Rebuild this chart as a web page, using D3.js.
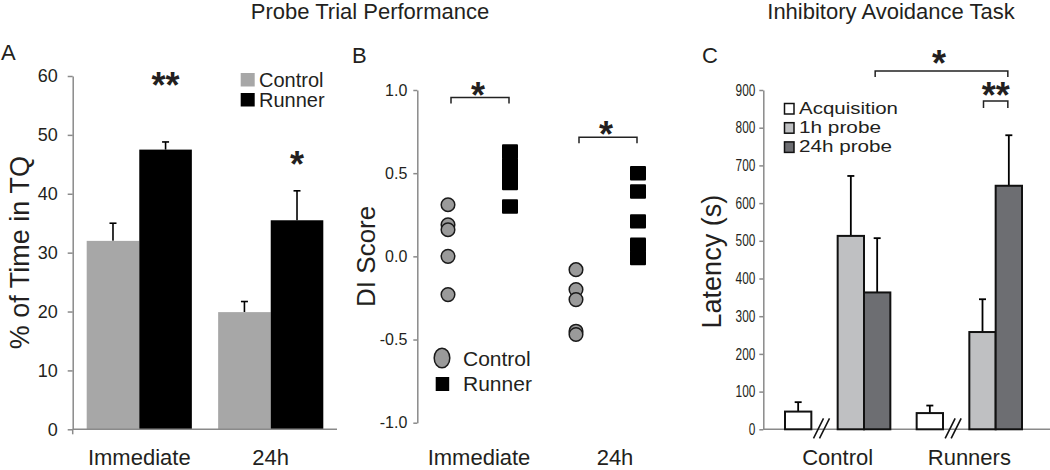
<!DOCTYPE html>
<html>
<head>
<meta charset="utf-8">
<script src="https://cdn.jsdelivr.net/npm/d3@7"></script>
<style>
  body { margin: 0; background: #fff; }
  svg { display: block; font-family: "Liberation Sans", Arial, Helvetica, sans-serif; }
  text { fill: #231f20; }
</style>
</head>
<body>
<svg id="chart" width="1050" height="470"></svg>
<script>
// ---------- Panel A data ----------
const aGroups = ["Immediate", "24h"];
const aSeries = ["Control", "Runner"];
const aControlMean = [32.0, 19.9];
const aRunnerMean = [47.5, 35.5];
const aControlSem = [3.0, 1.8];
const aRunnerSem = [1.3, 5.0];
const aTicks = [0, 10, 20, 30, 40, 50, 60];
const aStars = ["**", "*"];

// ---------- Panel B data ----------
const bGroups = ["Immediate", "24h"];
const bControlImmediate = [0.31, 0.19, 0.16, 0.0, -0.23];
const bRunnerImmediate = [0.63, 0.55, 0.49, 0.44, 0.30];
const bControl24h = [-0.08, -0.20, -0.26, -0.45, -0.47];
const bRunner24h = [0.50, 0.39, 0.21, 0.07, -0.01];
const bTicks = [-1.0, -0.5, 0.0, 0.5, 1.0];

// ---------- Panel C data ----------
const cGroups = ["Control", "Runners"];
const cSeries = ["Acquisition", "1h probe", "24h probe"];
const cControlMean = [47, 513, 363];
const cRunnersMean = [43, 258, 646];
const cControlSem = [25, 159, 144];
const cRunnersSem = [20, 87, 134];
const cTicks = [0, 100, 200, 300, 400, 500, 600, 700, 800, 900];

const svg = d3.select("#chart");
const ink = "#231f20";
const axisGray = "#8a8a8a";
const labelBaseline = 465;

// Titles and panel letters
svg.append("text").attr("x", 370).attr("y", 19).attr("text-anchor", "middle")
  .attr("font-size", 22).text("Probe Trial Performance");
svg.append("text").attr("x", 891).attr("y", 19).attr("text-anchor", "middle")
  .attr("font-size", 22).text("Inhibitory Avoidance Task");
svg.append("text").attr("x", 1).attr("y", 60).attr("font-size", 22).text("A");
svg.append("text").attr("x", 352).attr("y", 63).attr("font-size", 22).text("B");
svg.append("text").attr("x", 702).attr("y", 63).attr("font-size", 22).text("C");

function styleAxis(g, fs) {
  g.select(".domain").attr("stroke", axisGray).attr("stroke-width", 1.5);
  g.selectAll(".tick line").attr("stroke", axisGray).attr("stroke-width", 1.5);
  g.selectAll(".tick text").attr("fill", ink).attr("font-size", fs)
    .attr("font-family", '"Liberation Sans", Arial, sans-serif');
}

// ================= Panel A =================
(function () {
  const y = d3.scaleLinear().domain([0, 60]).range([429.3, 76]);
  const x = d3.scaleBand().domain(aGroups).range([86.7, 323.3]).paddingInner(0.2).paddingOuter(0);
  const xs = d3.scaleBand().domain(aSeries).range([0, x.bandwidth()]);
  const colors = { Control: "#a7a7a7", Runner: "#000000" };
  const g = svg.append("g");

  const rows = [];
  aGroups.forEach((grp, i) => {
    rows.push({ grp, s: "Control", v: aControlMean[i], e: aControlSem[i] });
    rows.push({ grp, s: "Runner", v: aRunnerMean[i], e: aRunnerSem[i] });
  });

  rows.forEach(d => {
    const cx = x(d.grp) + xs(d.s) + xs.bandwidth() / 2;
    g.append("line").attr("x1", cx).attr("x2", cx).attr("y1", y(d.v)).attr("y2", y(d.v + d.e))
      .attr("stroke", "#000").attr("stroke-width", 1.6);
    g.append("line").attr("x1", cx - 3.5).attr("x2", cx + 3.5).attr("y1", y(d.v + d.e)).attr("y2", y(d.v + d.e))
      .attr("stroke", "#000").attr("stroke-width", 1.6);
  });
  g.selectAll("rect.bar").data(rows).enter().append("rect")
    .attr("x", d => x(d.grp) + xs(d.s))
    .attr("width", xs.bandwidth())
    .attr("y", d => y(d.v))
    .attr("height", d => y(0) - y(d.v))
    .attr("fill", d => colors[d.s]);

  const ya = g.append("g").attr("transform", "translate(72.7,0)")
    .call(d3.axisLeft(y).tickValues(aTicks).tickSize(5).tickSizeOuter(0).tickPadding(10));
  styleAxis(ya, 18);
  g.append("line").attr("x1", 72.7).attr("x2", 337).attr("y1", y(0)).attr("y2", y(0))
    .attr("stroke", axisGray).attr("stroke-width", 1.5);
  g.append("line").attr("x1", 72.7).attr("x2", 72.7).attr("y1", y(0)).attr("y2", y(0) + 5)
    .attr("stroke", axisGray).attr("stroke-width", 1.5);
  const xa = g.append("g").attr("transform", `translate(0,${y(0)})`)
    .call(d3.axisBottom(x).tickSize(0).tickPadding(0));
  xa.select(".domain").remove();
  xa.selectAll(".tick text").attr("fill", ink).attr("font-size", 22)
    .attr("y", labelBaseline - y(0)).attr("dy", 0)
    .attr("font-family", '"Liberation Sans", Arial, sans-serif');

  g.append("text").attr("transform", `translate(29,${(y(0) + y(60)) / 2}) rotate(-90)`)
    .attr("text-anchor", "middle").attr("font-size", 27).text("% of Time in TQ");

  aGroups.forEach((grp, i) => {
    const top = Math.max(aControlMean[i] + aControlSem[i], aRunnerMean[i] + aRunnerSem[i]);
    const cx = x(grp) + xs("Runner") + xs.bandwidth() / 2;
    const yy = i === 0 ? 98 : y(top) - 14;
    g.append("text").attr("x", cx).attr("y", yy).attr("text-anchor", "middle")
      .attr("font-size", 36).attr("font-weight", "bold").text(aStars[i]);
  });

  const leg = g.append("g");
  aSeries.forEach((s, i) => {
    leg.append("rect").attr("x", 240.7).attr("y", 73 + i * 20).attr("width", 14).attr("height", 13.5)
      .attr("fill", colors[s]);
    leg.append("text").attr("x", 259).attr("y", 87 + i * 20).attr("font-size", 20).text(s);
  });
})();

// ================= Panel B =================
(function () {
  const y = d3.scaleLinear().domain([-1, 1]).range([422.7, 90]);
  const x = d3.scalePoint().domain(bGroups).range([415, 671]).padding(0.5);
  const off = 31;
  const g = svg.append("g");

  const ya = g.append("g").attr("transform", "translate(417.3,0)")
    .call(d3.axisLeft(y).tickValues(bTicks).tickSize(4).tickSizeOuter(0).tickPadding(6)
      .tickFormat(d => d.toFixed(1)));
  styleAxis(ya, 16);

  const ctrl = [bControlImmediate, bControl24h];
  const run = [bRunnerImmediate, bRunner24h];
  bGroups.forEach((grp, i) => {
    g.selectAll(null).data(run[i]).enter().append("rect")
      .attr("x", x(grp) + off - 8).attr("width", 16)
      .attr("y", d => y(d) - 7.2).attr("height", 14.4)
      .attr("rx", 1).attr("fill", "#000");
    g.selectAll(null).data(ctrl[i]).enter().append("circle")
      .attr("cx", x(grp) - off).attr("cy", d => y(d)).attr("r", 6.8)
      .attr("fill", "#9a9a9a").attr("stroke", "#1a1a1a").attr("stroke-width", 1.5);
    const top = Math.max(d3.max(ctrl[i]), d3.max(run[i]));
    const by = y(top) - (i === 0 ? 54 : 36);
    g.append("path")
      .attr("d", `M${x(grp) - off + 3},${by + 6}V${by}H${x(grp) + off - 1}V${by + 6}`)
      .attr("fill", "none").attr("stroke", "#222").attr("stroke-width", 1.5);
    g.append("text").attr("x", x(grp) - 1).attr("y", by + 10).attr("text-anchor", "middle")
      .attr("font-size", 36).attr("font-weight", "bold").text("*");
    g.append("text").attr("x", x(grp) + (i === 0 ? 0 : 8)).attr("y", labelBaseline).attr("text-anchor", "middle")
      .attr("font-size", 22).text(grp);
  });

  g.append("text").attr("transform", `translate(375,${y(0)}) rotate(-90)`)
    .attr("text-anchor", "middle").attr("font-size", 26).text("DI Score");

  g.append("ellipse").attr("cx", 442).attr("cy", 358).attr("rx", 7.8).attr("ry", 9.8)
    .attr("fill", "#9a9a9a").attr("stroke", "#1a1a1a").attr("stroke-width", 1.5);
  g.append("text").attr("x", 463).attr("y", 366).attr("font-size", 21).text("Control");
  g.append("rect").attr("x", 435.7).attr("y", 377).attr("width", 13.5).attr("height", 14).attr("fill", "#000");
  g.append("text").attr("x", 463).attr("y", 390.5).attr("font-size", 21).text("Runner");
})();

// ================= Panel C =================
(function () {
  const y = d3.scaleLinear().domain([0, 900]).range([429.3, 90]);
  const x = d3.scaleBand().domain(cGroups).range([785, 1022]).paddingInner(0.2).paddingOuter(0);
  const slots = ["Acquisition", "break", "1h probe", "24h probe"];
  const xs = d3.scaleBand().domain(slots).range([0, x.bandwidth()]);
  const colors = { "Acquisition": "#ffffff", "1h probe": "#bfc0c2", "24h probe": "#6d6e72" };
  const g = svg.append("g");

  const rows = [];
  cGroups.forEach((grp, gi) => {
    const m = gi === 0 ? cControlMean : cRunnersMean;
    const e = gi === 0 ? cControlSem : cRunnersSem;
    cSeries.forEach((s, i) => rows.push({ grp, s, v: m[i], e: e[i] }));
  });

  const ya = g.append("g").attr("transform", "translate(763.3,0)")
    .call(d3.axisLeft(y).tickValues(cTicks).tickSize(4).tickSizeOuter(0).tickPadding(4));
  styleAxis(ya, 16);
  ya.selectAll(".tick text").each(function () {
    const w = this.getComputedTextLength();
    d3.select(this).attr("textLength", w * 0.74).attr("lengthAdjust", "spacingAndGlyphs");
  });
  g.append("line").attr("x1", 763.3).attr("x2", 1050).attr("y1", y(0)).attr("y2", y(0))
    .attr("stroke", axisGray).attr("stroke-width", 1.5);

  rows.forEach(d => {
    const cx = x(d.grp) + xs(d.s) + xs.bandwidth() / 2;
    g.append("line").attr("x1", cx).attr("x2", cx).attr("y1", y(d.v)).attr("y2", y(d.v + d.e))
      .attr("stroke", "#000").attr("stroke-width", 1.8);
    g.append("line").attr("x1", cx - 3.5).attr("x2", cx + 3.5).attr("y1", y(d.v + d.e)).attr("y2", y(d.v + d.e))
      .attr("stroke", "#000").attr("stroke-width", 1.8);
  });
  g.selectAll("rect.bar").data(rows).enter().append("rect")
    .attr("x", d => x(d.grp) + xs(d.s))
    .attr("width", xs.bandwidth())
    .attr("y", d => y(d.v))
    .attr("height", d => y(0) - y(d.v))
    .attr("fill", d => colors[d.s]).attr("stroke", "#111").attr("stroke-width", 2);

  cGroups.forEach(grp => {
    const cx = x(grp) + xs("break") + xs.bandwidth() / 2 - 3;
    [-3, 3].forEach(dx => {
      g.append("line").attr("x1", cx + dx - 5).attr("y1", y(0) + 9)
        .attr("x2", cx + dx + 5).attr("y2", y(0) - 11)
        .attr("stroke", "#111").attr("stroke-width", 1.6);
    });
  });

  const xa = g.append("g").attr("transform", `translate(0,${y(0)})`)
    .call(d3.axisBottom(x).tickSize(0).tickPadding(0));
  xa.select(".domain").remove();
  xa.selectAll(".tick text").attr("fill", ink).attr("font-size", 22)
    .attr("y", labelBaseline - y(0)).attr("dy", 0)
    .attr("font-family", '"Liberation Sans", Arial, sans-serif');

  g.append("text").attr("transform", `translate(721,${(y(0) + y(900)) / 2 + 2}) rotate(-90)`)
    .attr("text-anchor", "middle").attr("font-size", 27).text("Latency (s)");

  const cx24c = x("Control") + xs("24h probe") + xs.bandwidth() / 2;
  const cx24r = x("Runners") + xs("24h probe") + xs.bandwidth() / 2;
  const cx1r = x("Runners") + xs("1h probe") + xs.bandwidth() / 2;
  g.append("path").attr("d", `M${cx24c - 2},77V71H${cx24r - 1}V77`)
    .attr("fill", "none").attr("stroke", "#222").attr("stroke-width", 1.5);
  g.append("text").attr("x", (cx24c + cx24r) / 2 - 4).attr("y", 76).attr("text-anchor", "middle")
    .attr("font-size", 36).attr("font-weight", "bold").text("*");
  g.append("path").attr("d", `M${cx1r + 1},108V101H${cx24r - 1}V108`)
    .attr("fill", "none").attr("stroke", "#222").attr("stroke-width", 1.5);
  g.append("text").attr("x", (cx1r + cx24r) / 2).attr("y", 108).attr("text-anchor", "middle")
    .attr("font-size", 36).attr("font-weight", "bold").text("**");

  // legend (text widths stretched to the reference footprint, smaller line box to avoid overlap)
  const legW = [99, 82, 93];
  cSeries.forEach((s, i) => {
    g.append("rect").attr("x", 784.5).attr("y", 103.5 + i * 19.2).attr("width", 9.5).attr("height", 10.5)
      .attr("fill", colors[s]).attr("stroke", "#111").attr("stroke-width", 1.5);
    g.append("text").attr("x", 799).attr("y", 114.3 + i * 19).attr("font-size", 17)
      .attr("textLength", legW[i]).attr("lengthAdjust", "spacingAndGlyphs").text(s);
  });
})();
</script>
</body>
</html>
